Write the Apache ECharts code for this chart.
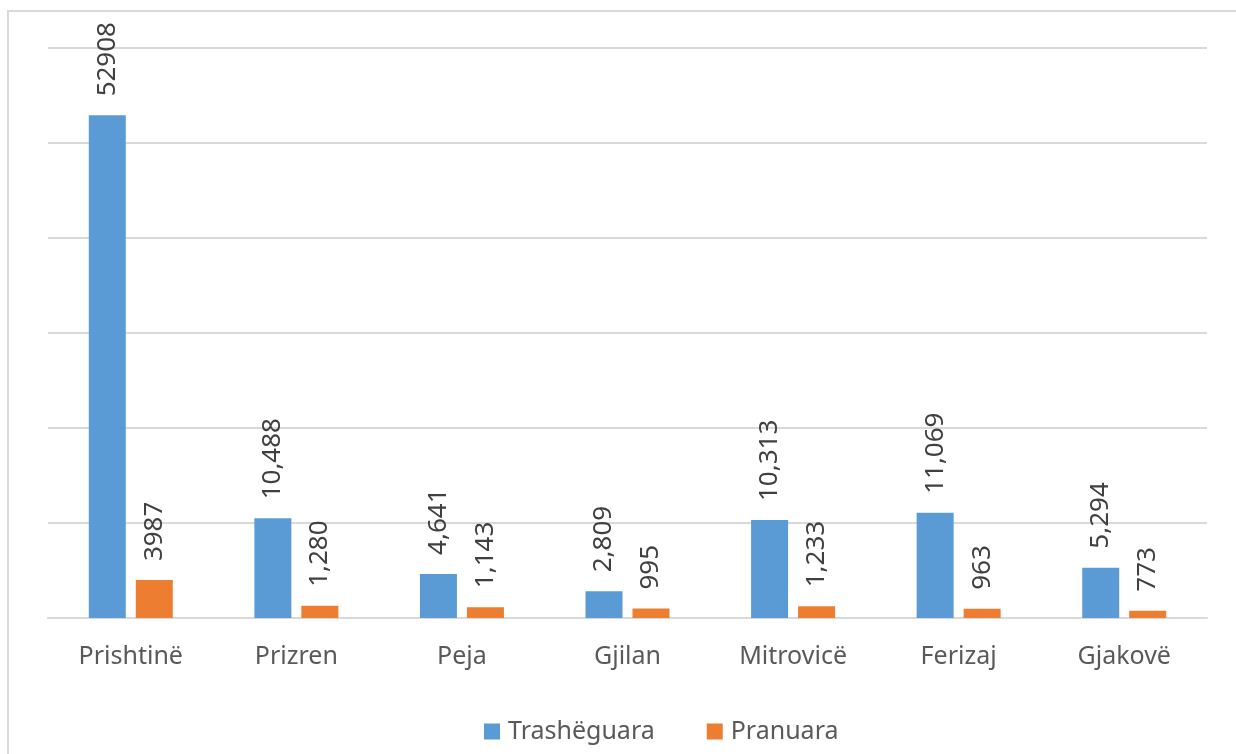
<!DOCTYPE html>
<html>
<head>
<meta charset="utf-8">
<script src="https://cdn.jsdelivr.net/npm/echarts@6/dist/echarts.min.js"></script>
<style>
  html, body { margin: 0; padding: 0; background: #fff; overflow: hidden; }
  #frame { position: absolute; left: 7px; top: 10px; width: 1260px; height: 800px; border: 2px solid #d9d9d9; box-sizing: border-box; }
  #chart { position: absolute; left: 0; top: 0; width: 1236px; height: 754px; }
</style>
</head>
<body>
<div id="frame"></div>
<div id="chart"></div>
<script>
  // data
  var cities = ['Prishtinë', 'Prizren', 'Peja', 'Gjilan', 'Mitrovicë', 'Ferizaj', 'Gjakovë'];
  var trasheguara = [52908, 10488, 4641, 2809, 10313, 11069, 5294];
  var pranuara = [3987, 1280, 1143, 995, 1233, 963, 773];
  var trasheguaraLabels = ['52908', '10,488', '4,641', '2,809', '10,313', '11,069', '5,294'];
  var pranuaraLabels = ['3987', '1,280', '1,143', '995', '1,233', '963', '773'];

  var font = '"Noto Sans", "Open Sans", sans-serif';

  function barLabel(texts) {
    return {
      show: true,
      position: 'top',
      rotate: 90,
      align: 'left',
      verticalAlign: 'middle',
      distance: 19,
      color: '#404040',
      fontFamily: font,
      fontSize: 26,
      formatter: function (p) { return texts[p.dataIndex]; }
    };
  }

  var chart = echarts.init(document.getElementById('chart'));
  chart.setOption({
    animation: false,
    grid: { left: 48, right: 29, top: 48, bottom: 136 },
    legend: {
      bottom: 5,
      left: 479,
      itemWidth: 16,
      itemHeight: 16,
      itemGap: 52,
      icon: 'rect',
      textStyle: { color: '#595959', fontFamily: font, fontSize: 25, padding: [0, 0, 0, 3] },
      data: ['Trashëguara', 'Pranuara']
    },
    xAxis: {
      type: 'category',
      data: cities,
      axisLine: { lineStyle: { color: '#d9d9d9', width: 2 } },
      axisTick: { show: false },
      axisLabel: { color: '#595959', fontFamily: font, fontSize: 25, margin: 26 }
    },
    yAxis: {
      type: 'value',
      min: 0,
      max: 60000,
      interval: 10000,
      axisLabel: { show: false },
      axisLine: { show: false },
      axisTick: { show: false },
      splitLine: { lineStyle: { color: '#d9d9d9', width: 2 } }
    },
    series: [
      {
        name: 'Trashëguara',
        type: 'bar',
        data: trasheguara,
        barWidth: 37,
        barGap: '27%',
        itemStyle: { color: '#5b9bd5' },
        label: barLabel(trasheguaraLabels)
      },
      {
        name: 'Pranuara',
        type: 'bar',
        data: pranuara,
        barWidth: 37,
        itemStyle: { color: '#ed7d31' },
        label: barLabel(pranuaraLabels)
      }
    ]
  });
</script>
</body>
</html>
